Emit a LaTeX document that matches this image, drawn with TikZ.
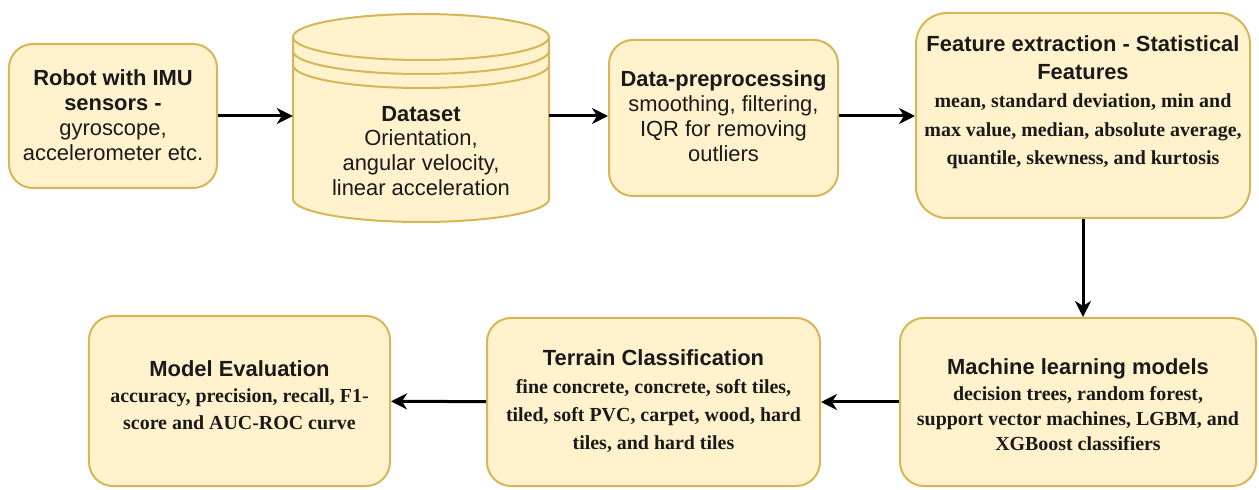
\documentclass[tikz,border=0pt]{standalone}
\usepackage{fontspec}
\setmainfont{Liberation Serif}
\setsansfont{Liberation Sans}
\usetikzlibrary{arrows.meta}
\definecolor{boxfill}{HTML}{FFF2CC}
\definecolor{boxline}{HTML}{D6B656}
\definecolor{ink}{HTML}{1A1A1A}
\newcommand{\ttl}[1]{{\sffamily\bfseries #1}}
\newcommand{\bdy}[1]{{\rmfamily\bfseries\fontsize{20}{27}\selectfont #1}}
\tikzset{
  box/.style={draw=boxline, fill=boxfill, line width=2bp, rounded corners=24bp, inner sep=0pt},
  txt/.style={align=center, text=ink, inner sep=0pt, font=\sffamily\fontsize{22}{25}\selectfont},
  txtb/.style={txt, font=\sffamily\fontsize{22}{#1}\selectfont},
  txtb/.default=26.5,
  flow/.style={line width=3bp, -{Stealth[length=16bp, width=16bp, inset=5bp]}}
}
\begin{document}
\begin{tikzpicture}[x=1bp, y=-1bp]
		\fill[white] (0,0) rectangle (1259,490);
		\useasboundingbox (0,0) rectangle (1259,490);
		% top row
		\node[box, minimum width=208bp, minimum height=144bp] (robot) at (113,116) {};
		\node[txt] (robottxt) at (113,115) {\ttl{Robot with IMU}\\\ttl{sensors -}\\gyroscope,\\accelerometer etc.};
		% dataset cylinder
		\filldraw[draw=boxline, fill=boxfill, line width=2bp] (293,37) -- (293,199) arc[start angle=180, end angle=0, x radius=128, y radius=23] -- (549,37);
		\filldraw[draw=boxline, fill=boxfill, line width=2bp] (421,37) ellipse[x radius=128, y radius=23];
		\draw[boxline, line width=2bp] (293,51) arc[start angle=180, end angle=0, x radius=128, y radius=23];
		\draw[boxline, line width=2bp] (293,65) arc[start angle=180, end angle=0, x radius=128, y radius=23];
		\node[minimum width=256bp, minimum height=205bp, inner sep=0pt] (dset) at (421,116) {};
		\node[txt] (dsettxt) at (421,151) {\ttl{Dataset}\\Orientation,\\angular velocity,\\linear acceleration};
		\node[box, minimum width=229bp, minimum height=156bp] (prep) at (723.5,118) {};
		\node[txt] (preptxt) at (723.5,116) {\ttl{Data-preprocessing}\\smoothing, filtering,\\IQR for removing\\outliers};
		\node[box, minimum width=334bp, minimum height=205bp, rounded corners=31bp] (feat) at (1083,115.5) {};
		\node[txtb=28.5] (feattxt) at (1083,102) {\ttl{Feature extraction - Statistical}\\\ttl{Features}\\\bdy{mean, standard deviation, min and}\\\bdy{max value, median, absolute average,}\\\bdy{quantile, skewness, and kurtosis}};
		% bottom row
		\node[box, minimum width=356bp, minimum height=168bp] (ml) at (1078,402) {};
		\node[txtb=25.5] (mltxt) at (1078,405) {\ttl{Machine learning models}\\\bdy{decision trees, random forest,}\\\bdy{support vector machines, LGBM, and}\\\bdy{XGBoost classifiers}};
		\node[box, minimum width=333bp, minimum height=168bp] (terr) at (653.5,402) {};
		\node[txtb=28] (terrtxt) at (653.5,401) {\ttl{Terrain Classification}\\\bdy{fine concrete, concrete, soft tiles,}\\\bdy{tiled, soft PVC, carpet, wood, hard}\\\bdy{tiles, and hard tiles}};
		\node[box, minimum width=301bp, minimum height=170bp] (eval) at (239.5,401) {};
		\node[txtb] (evaltxt) at (239.5,395) {\ttl{Model Evaluation}\\\bdy{accuracy, precision, recall, F1-}\\\bdy{score and AUC-ROC curve}};
		% connectors
		\draw[flow] (robot.east) -- (robot.east -| dset.west);
		\draw[flow] (dset.east) -- (dset.east -| prep.west);
		\draw[flow] (dset.east -| prep.east) -- (dset.east -| feat.west);
		\draw[flow] (feat) -- (feat |- ml.north);
		\draw[flow] (ml) -- (terr);
		\draw[flow] (terr) -- (eval);
	\end{tikzpicture}
\end{document}
